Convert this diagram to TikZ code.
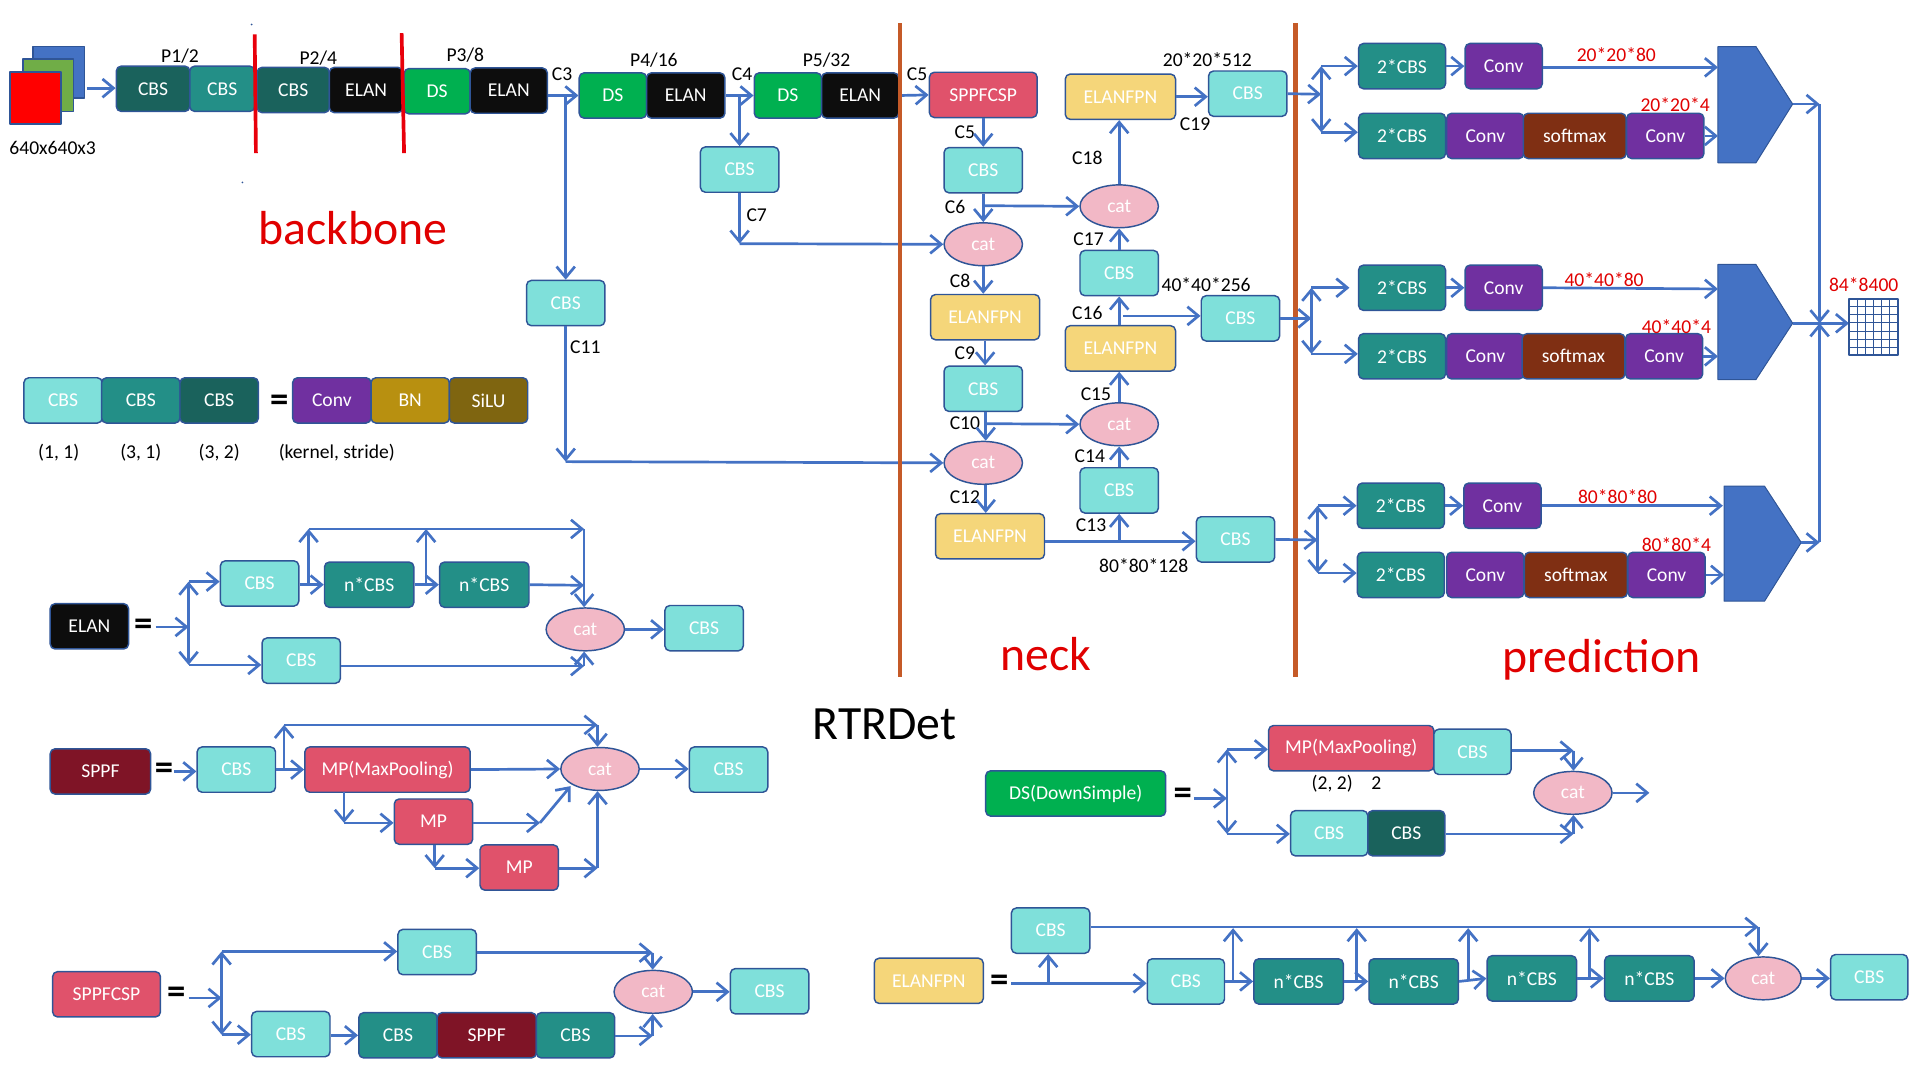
\documentclass[tikz,border=0pt]{standalone}
\usepackage{fontspec}
\setmainfont{Carlito}
\usetikzlibrary{arrows.meta,shapes.geometric}
\definecolor{edge}{HTML}{2F5597}
\definecolor{flow}{HTML}{4472C4}
\definecolor{imgGreen}{HTML}{70AD47}
\definecolor{cbsLight}{HTML}{7FE0DA}
\definecolor{cbsTeal}{HTML}{238F87}
\definecolor{cbsDark}{HTML}{1A625C}
\definecolor{elanBlack}{HTML}{0D0D0D}
\definecolor{dsGreen}{HTML}{00B050}
\definecolor{spRed}{HTML}{E0526B}
\definecolor{sppfRed}{HTML}{7F1426}
\definecolor{fpnYellow}{HTML}{F5D67A}
\definecolor{convPurple}{HTML}{7030A0}
\definecolor{bnGold}{HTML}{B89010}
\definecolor{siluBrown}{HTML}{7F6510}
\definecolor{softBrown}{HTML}{7F2F13}
\definecolor{catPink}{HTML}{F2B8C6}
\definecolor{ruleOrange}{HTML}{C55A28}
\definecolor{ruleRed}{HTML}{E8000B}
\definecolor{textRed}{HTML}{E00000}
\tikzset{
	box/.style={draw=edge,line width=1.2pt,rounded corners=4pt,minimum width=64pt,minimum height=37pt,inner sep=0pt,text=white},
	cbsa/.style={box,fill=cbsLight},
	cbsb/.style={box,fill=cbsTeal},
	cbsc/.style={box,fill=cbsDark},
	elan/.style={box,fill=elanBlack},
	dsbox/.style={box,fill=dsGreen},
	mpbox/.style={box,fill=spRed},
	sppf/.style={box,fill=sppfRed},
	fpn/.style={box,fill=fpnYellow,minimum width=89pt},
	conv/.style={box,fill=convPurple},
	soft/.style={box,fill=softBrown,minimum width=84pt},
	cat/.style={ellipse,draw=edge,line width=1.2pt,fill=catPink,minimum width=64pt,minimum height=35pt,inner sep=0pt,text=white},
	lab/.style={inner sep=0pt,text=black,yshift=-.7pt},
	redlab/.style={inner sep=0pt,text=textRed,yshift=-.7pt},
	title/.style={inner sep=0pt,font=\fontsize{39}{42}\selectfont,text=textRed},
	eq/.style={inner sep=0pt,text=black,font=\fontsize{30}{32}\selectfont\bfseries},
	head/.style={draw=edge,line width=.8pt,fill=flow},
	sheet/.style={draw=edge,line width=1.5pt},
	link/.style={->,flow,line width=2.2pt},
	both/.style={<->,flow,line width=2.2pt},
	rule/.style={ruleOrange,line width=3.5pt},
	cut/.style={ruleRed,line width=3pt}
}
\begin{document}
\begin{tikzpicture}[x=1pt,y=-1pt,>={Straight Barb[length=9pt,width=15pt]},font=\fontsize{16}{18}\selectfont,line join=round]
	\useasboundingbox (0,0) rectangle (1568,882);
	\fill[edge] (205.5,20) circle (.8) (198,149) circle (.8);
	\filldraw[sheet,fill=flow] (27,38) rectangle (69,80);
	\filldraw[sheet,fill=imgGreen] (19,48) rectangle (60,91);
	\filldraw[sheet,fill=red] (8,59) rectangle (50,101);
	\coordinate (img) at (71,72);
	\node[lab] (imgsize) at (43,120) {640x640x3};
	\node[cbsc,minimum width=60pt] (bb1) at (125,72.5) {CBS};
	\node[cbsb,minimum width=53pt] (bb2) at (181.5,72.5) {CBS};
	\node[cbsc,minimum width=59pt] (bb3) at (239.5,73.5) {CBS};
	\node[elan,minimum width=60pt] (bb4) at (299,73.5) {ELAN};
	\node[dsbox,minimum width=54pt] (bb5) at (357,74.5) {DS};
	\node[elan,minimum width=63pt] (bb6) at (415.5,74) {ELAN};
	\node[dsbox,minimum width=55pt] (bb7) at (500.5,78) {DS};
	\node[elan,minimum width=64pt] (bb8) at (560,78) {ELAN};
	\node[dsbox,minimum width=55pt] (bb9) at (643.5,78) {DS};
	\node[elan,minimum width=63pt] (bb10) at (702.5,78) {ELAN};
	\node[lab] (p1) at (147,45) {P1/2};
	\node[lab] (p2) at (260,47) {P2/4};
	\node[lab] (p3) at (380,44) {P3/8};
	\node[lab] (p4) at (534,48) {P4/16};
	\node[lab] (p5) at (675,48) {P5/32};
	\node[lab] (c3) at (459,60) {C3};
	\node[lab] (c4) at (606,60) {C4};
	\node[lab] (c5a) at (749,60) {C5};
	\node[cbsa] (bbc7) at (604,138.5) {CBS};
	\node[cbsa] (bbc11) at (462,247.5) {CBS};
	\node[lab] (c7) at (618,175) {C7};
	\node[lab] (c11) at (478,283) {C11};
	\node[title] (backbone) at (288,186) {backbone};
	\node[title] (neck) at (854,534) {neck};
	\node[title] (prediction) at (1308,538.5) {prediction};
	\node[title,text=black] (rtr) at (722.5,591.5) {RTRDet};
	\coordinate (j3) at (462,78);
	\coordinate (j4) at (604,78);
	\coordinate (j7) at (604,199);
	\coordinate (j11) at (462,377);
	\draw[link] (img) -- (bb1.west |- img);
	\draw[link] (bb6.east |- bb7.west) -- (bb7.west);
	\draw[link] (bb8.east) -- (bb9.west);
	\draw[link] (j3) -- (bbc11.north);
	\draw[link] (j4) -- (bbc7.north);
	\draw[link] (bbc7.south) -- (j7);
	\draw[link] (bbc11.south) -- (j11);

	\node[mpbox,minimum width=88pt] (n1) at (803,77.5) {SPPFCSP};
	\node[cbsa] (n2) at (803,139) {CBS};
	\node[cat] (n3) at (803,199.5) {cat};
	\node[fpn] (n4) at (804.5,259) {ELANFPN};
	\node[cbsa] (n5) at (803,317.5) {CBS};
	\node[cat] (n6) at (803,378) {cat};
	\node[fpn] (n7) at (808.5,438) {ELANFPN};
	\node[cbsa] (n8) at (1009,440.5) {CBS};
	\node[cbsa] (n9) at (914,400.5) {CBS};
	\node[cat] (n10) at (914,346.5) {cat};
	\node[fpn,minimum width=90pt] (n11) at (915,284.5) {ELANFPN};
	\node[cbsa] (n12) at (914,223) {CBS};
	\node[cbsa] (n13) at (1013,260) {CBS};
	\node[cat] (n14) at (914,168.5) {cat};
	\node[fpn,minimum width=90pt] (n15) at (915,79) {ELANFPN};
	\node[cbsa] (n16) at (1019,76.5) {CBS};
	\node[lab] (c5b) at (788,107) {C5};
	\node[lab] (c6) at (780,168) {C6};
	\node[lab] (c8) at (784,229) {C8};
	\node[lab] (c9) at (788,288) {C9};
	\node[lab] (c10) at (788,345) {C10};
	\node[lab] (c12) at (788,405) {C12};
	\node[lab] (c13) at (891,428) {C13};
	\node[lab] (c14) at (890,372) {C14};
	\node[lab] (c15) at (895,321) {C15};
	\node[lab] (c16) at (888,255) {C16};
	\node[lab] (c17) at (889,195) {C17};
	\node[lab] (c18) at (888,128) {C18};
	\node[lab] (c19) at (976,101) {C19};
	\node[lab] (s512) at (986,48) {20*20*512};
	\node[lab] (s256) at (985,232) {40*40*256};
	\node[lab] (s128) at (934,461) {80*80*128};
	\coordinate (j6) at (803,168);
	\coordinate (j10) at (805,346);
	\coordinate (j13) at (914,442);
	\coordinate (j16) at (917,258);
	\draw[link] (bb10.east) -- (n1.west);
	\draw[link] (j7) -- (n3.west);
	\draw[link] (j11) -- (n6.west);
	\draw[link] (n1.south) -- (n2.north);
	\draw[link] (n2.south) -- (n3.north);
	\draw[link] (j6) -- (n14.west);
	\draw[link] (n3.south) -- (n4.north -| n3.south);
	\draw[link] (n4.south) -- (n5.north -| n4.south);
	\draw[link] (n5.south -| j10) -- (n6.north -| j10);
	\draw[link] (j10) -- (n10.west);
	\draw[link] (n6.south -| j10) -- (n7.north -| j10);
	\draw[link] (n7.east |- j13) -- (n8.west |- j13);
	\draw[link] (j13) -- (n9.south);
	\draw[link] (n9.north) -- (n10.south);
	\draw[link] (n10.north) -- (n11.south -| n10.north);
	\draw[link] (n11.north -| n12.south) -- (n12.south);
	\draw[link] (j16) -- (n13.west |- j16);
	\draw[link] (n12.north) -- (n14.south);
	\draw[link] (n14.north) -- (n15.south -| n14.north);
	\draw[link] (n15.east) -- (n16.west |- n15.east);

	\draw[rule] (735,19) -- (735,553);
	\draw[rule] (1058,19) -- (1058,553);
	\draw[cut] (208,28) -- (209,125);
	\draw[cut] (328,27) -- (330,125);

	\node[cbsb,minimum width=71pt] (a1) at (1145,54) {2*CBS};
	\node[conv,minimum width=63pt] (a2) at (1228,54) {Conv};
	\node[cbsb,minimum width=71pt] (a3) at (1145,111) {2*CBS};
	\node[conv,minimum width=63pt] (a4) at (1213,111) {Conv};
	\node[soft] (a5) at (1286,111) {softmax};
	\node[conv,minimum width=63pt] (a6) at (1360,111) {Conv};
	\node[cbsb,minimum width=71pt] (b1) at (1145,235) {2*CBS};
	\node[conv,minimum width=63pt] (b2) at (1228,235) {Conv};
	\node[cbsb,minimum width=71pt] (b3) at (1145,291) {2*CBS};
	\node[conv,minimum width=63pt] (b4) at (1213,291) {Conv};
	\node[soft] (b5) at (1285,291) {softmax};
	\node[conv,minimum width=63pt] (b6) at (1359,291) {Conv};
	\node[cbsb,minimum width=71pt] (d1) at (1144,413) {2*CBS};
	\node[conv,minimum width=63pt] (d2) at (1227,413) {Conv};
	\node[cbsb,minimum width=71pt] (d3) at (1144,469.5) {2*CBS};
	\node[conv,minimum width=63pt] (d4) at (1213,469.5) {Conv};
	\node[soft] (d5) at (1287,469.5) {softmax};
	\node[conv,minimum width=63pt] (d6) at (1361,469.5) {Conv};
	\node[redlab] (ra1) at (1320,44) {20*20*80};
	\node[redlab] (ra2) at (1368,85) {20*20*4};
	\node[redlab] (rb1) at (1310,228) {40*40*80};
	\node[redlab] (rb2) at (1369,266) {40*40*4};
	\node[redlab] (rd1) at (1321,405) {80*80*80};
	\node[redlab] (rd2) at (1369,444) {80*80*4};
	\node[redlab] (rout) at (1522,232) {84*8400};
	\filldraw[head] (1403,38) -- (1434,38) -- (1464,85) -- (1434,133) -- (1403,133) -- cycle;
	\filldraw[head] (1403,216) -- (1434,216) -- (1464,264) -- (1434,310) -- (1403,310) -- cycle;
	\filldraw[head] (1408,397) -- (1441,397) -- (1471,443) -- (1441,491) -- (1408,491) -- cycle;
	\coordinate (ha) at (1464,85);
	\coordinate (hb) at (1464,264);
	\coordinate (hd) at (1471,443);
	\coordinate (ha1) at (1403,55);
	\coordinate (ha2) at (1403,111);
	\coordinate (hb1) at (1403,236);
	\coordinate (hb2) at (1403,291);
	\coordinate (hd1) at (1407,413);
	\coordinate (hd2) at (1408,469.5);
	\coordinate (ja) at (1079,77);
	\coordinate (ja1) at (1079,54);
	\coordinate (ja2) at (1079,108);
	\coordinate (jb) at (1071,260);
	\coordinate (jb1) at (1071,235);
	\coordinate (jb2) at (1071,289);
	\coordinate (jb3) at (1102,235);
	\coordinate (jd) at (1076,441);
	\coordinate (jd1) at (1076,413);
	\coordinate (jd2) at (1076,468);
	\coordinate (jr1) at (1486,85);
	\coordinate (jr2) at (1486,264);
	\coordinate (jr3) at (1486,443);
	\coordinate (grid) at (1510,264);
	\draw[link] (n16.east) -- (ja);
	\draw[both] (ja1) -- (ja2);
	\draw[link] (ja1) -- (a1.west);
	\draw[link] (ja2) -- (a3.west |- ja2);
	\draw[link] (a1.east) -- (a2.west);
	\draw[link] (a2.east |- ha1) -- (ha1);
	\draw[link] (a6.east) -- (ha2);
	\draw[link] (n13.east) -- (jb);
	\draw[both] (jb1) -- (jb2);
	\draw[link] (jb1) -- (jb3);
	\draw[link] (jb2) -- (b3.west |- jb2);
	\draw[link] (b1.east) -- (b2.west);
	\draw[link] (b2.east) -- (hb1);
	\draw[link] (b6.east) -- (hb2);
	\draw[link] (n8.east) -- (jd);
	\draw[both] (jd1) -- (jd2);
	\draw[link] (jd1) -- (d1.west);
	\draw[link] (jd2) -- (d3.west |- jd2);
	\draw[link] (d1.east) -- (d2.west);
	\draw[link] (d2.east) -- (hd1);
	\draw[link] (d6.east) -- (hd2);
	\draw[link] (ha) -- (jr1);
	\draw[link] (jr1) -- (jr2);
	\draw[link] (jr3) -- (jr2);
	\draw[link] (hd) -- (jr3);
	\draw[link] (hb) -- (grid);
	\foreach \i in {1,...,5} \draw[edge,line width=.7pt] (1510+\i*6.67,244) -- (1510+\i*6.67,290);
	\foreach \i in {1,...,6} \draw[edge,line width=.7pt] (1510,244+\i*6.57) -- (1550,244+\i*6.57);
	\draw[sheet] (1510,244) rectangle (1550,290);

	\node[cbsa] (k1) at (51.5,327) {CBS};
	\node[cbsb] (k2) at (115,327) {CBS};
	\node[cbsc] (k3) at (179,327) {CBS};
	\node[eq] (keq) at (228,329) {=};
	\node[conv] (k4) at (271,327) {Conv};
	\node[box,fill=bnGold] (k5) at (335,327) {BN};
	\node[box,fill=siluBrown] (k6) at (399,327) {SiLU};
	\node[lab] (kl1) at (48,369) {(1, 1)};
	\node[lab] (kl2) at (115,369) {(3, 1)};
	\node[lab] (kl3) at (179,369) {(3, 2)};
	\node[lab] (kl4) at (275,369) {(kernel, stride)};

	\node[elan] (e0) at (73,511.5) {ELAN};
	\node[eq] (eeq) at (117,512) {=};
	\node[cbsa] (e1) at (212,476.5) {CBS};
	\node[cbsb,minimum width=73pt] (e2) at (301.5,477.5) {n*CBS};
	\node[cbsb,minimum width=73pt] (e3) at (395.5,477.5) {n*CBS};
	\node[cbsa] (e4) at (246,539.5) {CBS};
	\node[cat] (e5) at (478,514) {cat};
	\node[cbsa] (e6) at (575,513) {CBS};
	\coordinate (ein) at (127,512);
	\coordinate (ej) at (154,512);
	\coordinate (ej1) at (154,475);
	\coordinate (ej2) at (154,543);
	\coordinate (et1) at (252,478);
	\coordinate (et2) at (252,432);
	\coordinate (et3) at (348,478);
	\coordinate (et4) at (348,432);
	\coordinate (et5) at (477,432);
	\coordinate (et6) at (477,478);
	\coordinate (et7) at (477,544);
	\draw[link] (ein) -- (ej);
	\draw[both] (ej1) -- (ej2);
	\draw[link] (ej1) -- (e1.west |- ej1);
	\draw[link] (ej2) -- (e4.west |- ej2);
	\draw[link] (e1.east |- e2.west) -- (e2.west);
	\draw[link] (e2.east) -- (e3.west);
	\draw[link] (e3.east) -- (et6);
	\draw[link] (et1) -- (et2);
	\draw[link] (et3) -- (et4);
	\draw[link] (et2) -- (et5);
	\draw[link] (et5) -- (e5.north -| et5);
	\draw[link] (e4.east |- et7) -- (et7);
	\draw[link] (et7) -- (e5.south -| et7);
	\draw[link] (e5.east) -- (e6.west |- e5.east);

	\node[sppf,minimum width=82pt] (s0) at (82,630) {SPPF};
	\node[eq] (seq) at (134,630) {=};
	\node[cbsa] (s1) at (193,628.5) {CBS};
	\node[mpbox,minimum width=135pt] (s2) at (316.5,628.5) {MP(MaxPooling)};
	\node[cat] (s3) at (490,628) {cat};
	\node[cbsa] (s4) at (595,628.5) {CBS};
	\node[mpbox] (s5) at (354,671) {MP};
	\node[mpbox] (s6) at (424,708.5) {MP};
	\coordinate (sin) at (142,630);
	\coordinate (st1) at (232,628);
	\coordinate (st2) at (232,592);
	\coordinate (st3) at (488,592);
	\coordinate (sd1) at (281,647);
	\coordinate (sd2) at (281,672);
	\coordinate (sd3) at (355,690);
	\coordinate (sd4) at (355,709);
	\coordinate (sm1) at (441,672);
	\coordinate (sm2) at (466,642);
	\coordinate (sm3) at (488,709);
	\draw[link] (sin) -- (s1.west |- sin);
	\draw[link] (s1.east) -- (s2.west);
	\draw[link] (st1) -- (st2);
	\draw[link] (st2) -- (st3);
	\draw[link] (st3) -- (s3.north -| st3);
	\draw[link] (s2.east) -- (s3.west);
	\draw[link] (s3.east) -- (s4.west |- s3.east);
	\draw[link] (sd1) -- (sd2);
	\draw[link] (sd2) -- (s5.west |- sd2);
	\draw[link] (s5.east |- sm1) -- (sm1);
	\draw[link] (sm1) -- (sm2);
	\draw[link] (sd3) -- (sd4);
	\draw[link] (sd4) -- (s6.west |- sd4);
	\draw[link] (s6.east |- sm3) -- (sm3);
	\draw[link] (sm3) -- (s3.south -| sm3);

	\node[mpbox,minimum width=88pt] (p0) at (87,812) {SPPFCSP};
	\node[eq] (peq) at (144,813) {=};
	\node[cbsa] (p6) at (357,777.5) {CBS};
	\node[cat] (p7) at (533.5,810) {cat};
	\node[cbsa] (p8) at (628.5,809.5) {CBS};
	\node[cbsa] (q1) at (237.5,844.5) {CBS};
	\node[cbsb] (q2) at (325,845.5) {CBS};
	\node[sppf,minimum width=81pt] (q3) at (397.5,845.5) {SPPF};
	\node[cbsb] (q4) at (470,845.5) {CBS};
	\coordinate (pin) at (154,815);
	\coordinate (pj) at (181,815);
	\coordinate (pj1) at (181,777);
	\coordinate (pj2) at (181,845);
	\coordinate (pr1) at (533,778);
	\coordinate (pr2) at (533,846);
	\draw[link] (pin) -- (pj);
	\draw[both] (pj1) -- (pj2);
	\draw[link] (pj1) -- (p6.west |- pj1);
	\draw[link] (pj2) -- (q1.west |- pj2);
	\draw[link] (q1.east |- q2.west) -- (q2.west);
	\draw[link] (p6.east |- pr1) -- (pr1);
	\draw[link] (pr1) -- (p7.north -| pr1);
	\draw[link] (q4.east |- pr2) -- (pr2);
	\draw[link] (pr2) -- (p7.south -| pr2);
	\draw[link] (p7.east) -- (p8.west |- p7.east);

	\node[dsbox,minimum width=147pt] (w0) at (878.5,648) {DS(DownSimple)};
	\node[eq] (weq) at (966,650) {=};
	\node[mpbox,minimum width=135pt] (w1) at (1103.5,611) {MP(MaxPooling)};
	\node[cbsa,minimum width=63pt] (w2) at (1202.5,614) {CBS};
	\node[cbsa,minimum width=63pt] (w3) at (1085.5,680.5) {CBS};
	\node[cbsc,minimum width=63pt] (w4) at (1148.5,680.5) {CBS};
	\node[cat] (w5) at (1284.5,647.5) {cat};
	\node[lab] (wl1) at (1088,639) {(2, 2)};
	\node[lab] (wl2) at (1124,639) {2};
	\coordinate (win) at (975,652);
	\coordinate (wj) at (1002,652);
	\coordinate (wj1) at (1002,612);
	\coordinate (wj2) at (1002,681);
	\coordinate (wr1) at (1285,613);
	\coordinate (wr2) at (1285,681);
	\coordinate (wout) at (1347,647.5);
	\draw[link] (win) -- (wj);
	\draw[both] (wj1) -- (wj2);
	\draw[link] (wj1) -- (w1.west |- wj1);
	\draw[link] (wj2) -- (w3.west |- wj2);
	\draw[link] (w2.east |- wr1) -- (wr1);
	\draw[link] (wr1) -- (w5.north -| wr1);
	\draw[link] (w4.east |- wr2) -- (wr2);
	\draw[link] (wr2) -- (w5.south -| wr2);
	\draw[link] (w5.east) -- (wout);

	\node[fpn] (f0) at (758.5,801) {ELANFPN};
	\node[eq] (feq) at (816,803) {=};
	\node[cbsa] (f1) at (858,760) {CBS};
	\node[cbsa,minimum width=63pt] (f2) at (968.5,801.5) {CBS};
	\node[cbsb,minimum width=73pt] (f3) at (1060.5,801.5) {n*CBS};
	\node[cbsb,minimum width=73pt] (f4) at (1154.5,801.5) {n*CBS};
	\node[cbsb,minimum width=73pt] (f5) at (1251,799) {n*CBS};
	\node[cbsb,minimum width=73pt] (f6) at (1347,799) {n*CBS};
	\node[cat,minimum width=62pt] (f7) at (1440,799) {cat};
	\node[cbsa,minimum width=63pt] (f8) at (1526.5,798) {CBS};
	\coordinate (fin) at (826,803);
	\coordinate (fj) at (856,803);
	\coordinate (ft) at (1436,757);
	\coordinate (fu1) at (1007,802);
	\coordinate (fv1) at (1007,758);
	\coordinate (fu2) at (1108,802);
	\coordinate (fv2) at (1108,758);
	\coordinate (fu3) at (1199,800);
	\coordinate (fv3) at (1199,758);
	\coordinate (fu4) at (1298,800);
	\coordinate (fv4) at (1298,758);
	\draw[link] (fin) -- (f2.west |- fin);
	\draw[link] (fj) -- (f1.south -| fj);
	\draw[link] (f1.east |- ft) -- (ft);
	\draw[link] (ft) -- (f7.north -| ft);
	\draw[link] (f2.east) -- (f3.west);
	\draw[link] (f3.east) -- (f4.west);
	\draw[link] (f4.east) -- (f5.west);
	\draw[link] (f5.east) -- (f6.west);
	\draw[link] (f6.east) -- (f7.west);
	\draw[link] (f7.east) -- (f8.west |- f7.east);
	\draw[link] (fu1) -- (fv1);
	\draw[link] (fu2) -- (fv2);
	\draw[link] (fu3) -- (fv3);
	\draw[link] (fu4) -- (fv4);
\end{tikzpicture}
\end{document}
